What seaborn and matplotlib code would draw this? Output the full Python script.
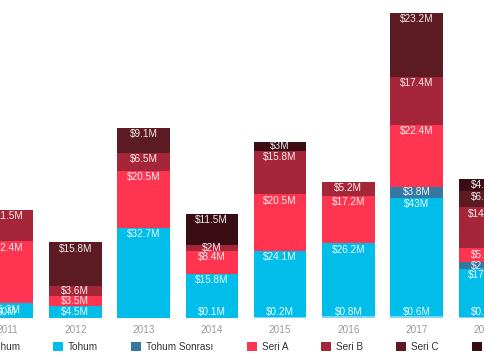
import numpy as np
import pandas as pd
import matplotlib
matplotlib.use("Agg")
import matplotlib.pyplot as plt
import seaborn as sns

# funding per stage and year, $M (nan = no round in that stage)
years = ["2011", "2012", "2013", "2014", "2015", "2016", "2017", "2018"]
on_tohum = [0.0, np.nan, np.nan, 0.1, 0.2, 0.8, 0.6, 0.5]
tohum = [5.3, 4.5, 32.7, 15.8, 24.1, 26.2, 43.0, 17.4]
tohum_sonrasi = [np.nan, np.nan, np.nan, np.nan, np.nan, np.nan, 3.8, 2.2]
seri_a = [22.4, 3.5, 20.5, 8.4, 20.5, 17.2, 22.4, 5.1]
seri_b = [11.5, 3.6, 6.5, 2.0, 15.8, 5.2, 17.4, 14.8]
seri_c = [np.nan, 15.8, 9.1, np.nan, np.nan, np.nan, 23.2, 6.1]
seri_d = [np.nan, np.nan, np.nan, 11.5, 3.0, np.nan, np.nan, 4.2]

stages = ["Ön Tohum", "Tohum", "Tohum Sonrası", "Seri A", "Seri B", "Seri C", "Seri D"]
series = [on_tohum, tohum, tohum_sonrasi, seri_a, seri_b, seri_c, seri_d]
colors = ["#7fd6f2", "#00bdea", "#3578a2", "#ff3450", "#a62639", "#5c1a23", "#3a0d15"]

sns.set_style("white")
plt.rcParams["font.family"] = ["Liberation Sans", "DejaVu Sans"]

fig = plt.figure(figsize=(4.85, 3.6), dpi=100)
ax = fig.add_axes([0, 42 / 360, 1, 318 / 360])

bottom = np.zeros(len(years))
labels = []
for name, vals, col in zip(stages, series, colors):
    v = np.array(vals, dtype=float)
    h = np.nan_to_num(v)
    df = pd.DataFrame({"year": years, "value": h})
    sns.barplot(data=df, x="year", y="value", color=col, saturation=1,
                errorbar=None, width=0.77, bottom=bottom, ax=ax,
                label=name, linewidth=0)
    for i in range(len(years)):
        if not np.isnan(v[i]):
            top = bottom[i] + h[i]
            y = max(top - 2.28, (bottom[i] + top) / 2)
            y = max(y, 2.17)
            labels.append((i, y, f"${v[i]:g}M"))
    bottom = bottom + h

for i, y, t in labels:
    ax.text(i, y, t, ha="center", va="center", color="white",
            fontsize=7.2, alpha=0.92)

ax.set_xlim(-7 / 69, 478 / 69)
ax.set_ylim(0, 318 / 2.763)
ax.set_yticks([])
ax.set_xticks(range(len(years)))
ax.set_xticklabels(years, color="#9a9a9a", fontsize=7.2)
ax.tick_params(axis="x", length=0, pad=5)
ax.set_xlabel("")
ax.set_ylabel("")
sns.despine(ax=ax, left=True, bottom=True)

handles, names = ax.get_legend_handles_labels()
if ax.get_legend() is not None:
    ax.get_legend().remove()
fig.legend(handles, names, ncol=7, loc="center left",
           bbox_to_anchor=(-46 / 485, 13 / 360), frameon=False,
           fontsize=7.2, handlelength=1.0, handleheight=1.0,
           handletextpad=0.5, columnspacing=3.3, borderpad=0,
           labelcolor="#333333")

fig.savefig("out.png", dpi=100)
